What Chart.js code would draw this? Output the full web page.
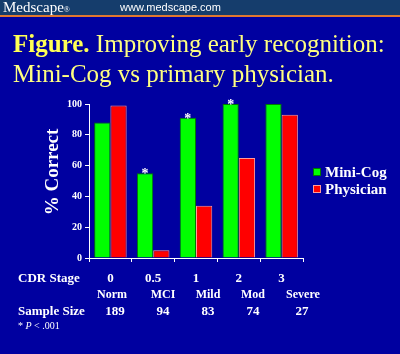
<!DOCTYPE html>
<html>
<head>
<meta charset="utf-8">
<script src="https://cdn.jsdelivr.net/npm/chart.js@4.4.0/dist/chart.umd.min.js"></script>
<style>
  html, body { margin: 0; padding: 0; background: #0000a0; }
  #wrap { width: 400px; height: 354px; position: relative; }
</style>
</head>
<body>
<div id="wrap"><canvas id="miniCogChart" width="400" height="354"></canvas></div>
<script>
// データ
const cdrStages = ['0', '0.5', '1', '2', '3'];
const stageNames = ['Norm', 'MCI', 'Mild', 'Mod', 'Severe'];
const sampleSizes = ['189', '94', '83', '74', '27'];
const miniCogValues = [88, 55, 91, 100, 100];
const physicianValues = [99, 5, 34, 65, 93];
const significant = [false, true, true, true, false]; // * P < .001
const yTicks = [0, 20, 40, 60, 80, 100];

const serif = '"Liberation Serif", "Times New Roman", serif';

// 背景・タイトル・下の表などを描くプラグイン
const slidePlugin = {
  id: 'slide',
  beforeDraw(chart) {
    const ctx = chart.ctx;
    ctx.save();
    ctx.fillStyle = '#0000a0';
    ctx.fillRect(0, 0, chart.width, chart.height);
    // header
    ctx.fillStyle = '#153d6c';
    ctx.fillRect(0, 0, chart.width, 15);
    ctx.fillStyle = '#e07830';
    ctx.fillRect(0, 15, chart.width, 2);
    ctx.fillStyle = '#ffffff';
    ctx.textBaseline = 'alphabetic';
    ctx.font = '15px ' + serif;
    ctx.fillText('Medscape', 3, 12);
    let w = ctx.measureText('Medscape').width;
    ctx.font = '8px ' + serif;
    ctx.fillText('®', 3 + w, 12);
    ctx.font = '11px "Liberation Sans", Arial, sans-serif';
    ctx.fillText('www.medscape.com', 120, 11);

    // title
    ctx.fillStyle = '#ffff55';
    ctx.font = 'bold 25px ' + serif;
    ctx.fillText('Figure.', 13, 52);
    w = ctx.measureText('Figure. ').width;
    ctx.fillStyle = '#ffff80';
    ctx.font = '25px ' + serif;
    ctx.fillText('Improving early recognition:', 13 + w, 52);
    ctx.fillText('Mini-Cog vs primary physician.', 13, 82);
    ctx.restore();
  },
  afterDraw(chart) {
    const ctx = chart.ctx;
    const xs = chart.scales.x;
    ctx.save();
    ctx.fillStyle = '#ffffff';

    // y axis title
    ctx.save();
    ctx.translate(53, 172);
    ctx.rotate(-Math.PI / 2);
    ctx.font = 'bold 19px ' + serif;
    ctx.textAlign = 'center';
    ctx.textBaseline = 'middle';
    ctx.fillText('% Correct', 0, 0);
    ctx.restore();

    // asterisks over Mini-Cog bars
    const meta = chart.getDatasetMeta(0);
    ctx.font = 'bold 14px ' + serif;
    ctx.textAlign = 'center';
    ctx.textBaseline = 'alphabetic';
    meta.data.forEach((bar, i) => {
      if (significant[i]) ctx.fillText('*', bar.x, bar.y + 5);
    });

    // legend
    const legendItems = [
      { label: 'Mini-Cog', ds: chart.data.datasets[0], y: 172 },
      { label: 'Physician', ds: chart.data.datasets[1], y: 189 }
    ];
    ctx.textAlign = 'left';
    ctx.textBaseline = 'middle';
    ctx.font = 'bold 15px ' + serif;
    legendItems.forEach(it => {
      ctx.fillStyle = it.ds.backgroundColor;
      ctx.fillRect(313, it.y - 4, 8, 8);
      ctx.strokeStyle = it.ds.borderColor;
      ctx.lineWidth = 1;
      ctx.strokeRect(313.5, it.y - 3.5, 7, 7);
      ctx.fillStyle = '#ffffff';
      ctx.fillText(it.label, 325, it.y + 1);
    });

    // table rows below the axis
    ctx.font = 'bold 13px ' + serif;
    ctx.fillText('CDR Stage', 18, 279);
    ctx.fillText('Sample Size', 18, 312);
    const nameX = [112, 163, 208, 253, 303];
    const sizeX = [115, 163, 208, 253, 302];
    ctx.textAlign = 'center';
    ctx.font = 'bold 12px ' + serif;
    stageNames.forEach((s, i) => ctx.fillText(s, nameX[i], 295));
    ctx.font = 'bold 13px ' + serif;
    sampleSizes.forEach((s, i) => ctx.fillText(s, sizeX[i], 312));

    // footnote
    ctx.textAlign = 'left';
    ctx.font = '10px ' + serif;
    ctx.fillText('* ', 18, 326);
    let fx = 18 + ctx.measureText('* ').width;
    ctx.font = 'italic 10px ' + serif;
    ctx.fillText('P', fx, 326);
    fx += ctx.measureText('P ').width;
    ctx.font = '10px ' + serif;
    ctx.fillText('< .001', fx, 326);
    ctx.restore();
  }
};

let ctx = document.getElementById('miniCogChart');

let config = {
  type: 'bar',
  data: {
    labels: cdrStages,
    datasets: [{
      label: 'Mini-Cog',
      data: miniCogValues,
      backgroundColor: '#00ff00',
      borderColor: '#007a00',
      borderWidth: 1
    }, {
      label: 'Physician',
      data: physicianValues,
      backgroundColor: '#ff0000',
      borderColor: '#ff9a9a',
      borderWidth: 1
    }]
  },
  options: {
    responsive: false,
    animation: false,
    categoryPercentage: 0.76,
    barPercentage: 1,
    layout: {
      padding: { left: 60, top: 104, right: 97, bottom: 0 }
    },
    plugins: {
      legend: { display: false },
      tooltip: { enabled: false }
    },
    scales: {
      x: {
        afterFit(scale) { scale.height = 96; },
        grid: {
          offset: true,
          drawOnChartArea: false,
          color: '#ffffff',
          tickLength: 4
        },
        border: { color: '#ffffff', width: 1 },
        ticks: {
          color: '#ffffff',
          padding: 9,
          font: { family: serif, size: 13, weight: 'bold' }
        }
      },
      y: {
        min: 0,
        max: 100,
        afterFit(scale) { scale.width = 29; },
        afterBuildTicks(scale) { scale.ticks = yTicks.map(v => ({ value: v })); },
        grid: {
          drawOnChartArea: false,
          color: '#ffffff',
          tickLength: 4
        },
        border: { color: '#ffffff', width: 1 },
        ticks: {
          color: '#ffffff',
          padding: 3,
          font: { family: serif, size: 10, weight: 'bold' }
        }
      }
    }
  },
  plugins: [slidePlugin]
};

let miniCogChart = new Chart(ctx, config);
</script>
</body>
</html>
